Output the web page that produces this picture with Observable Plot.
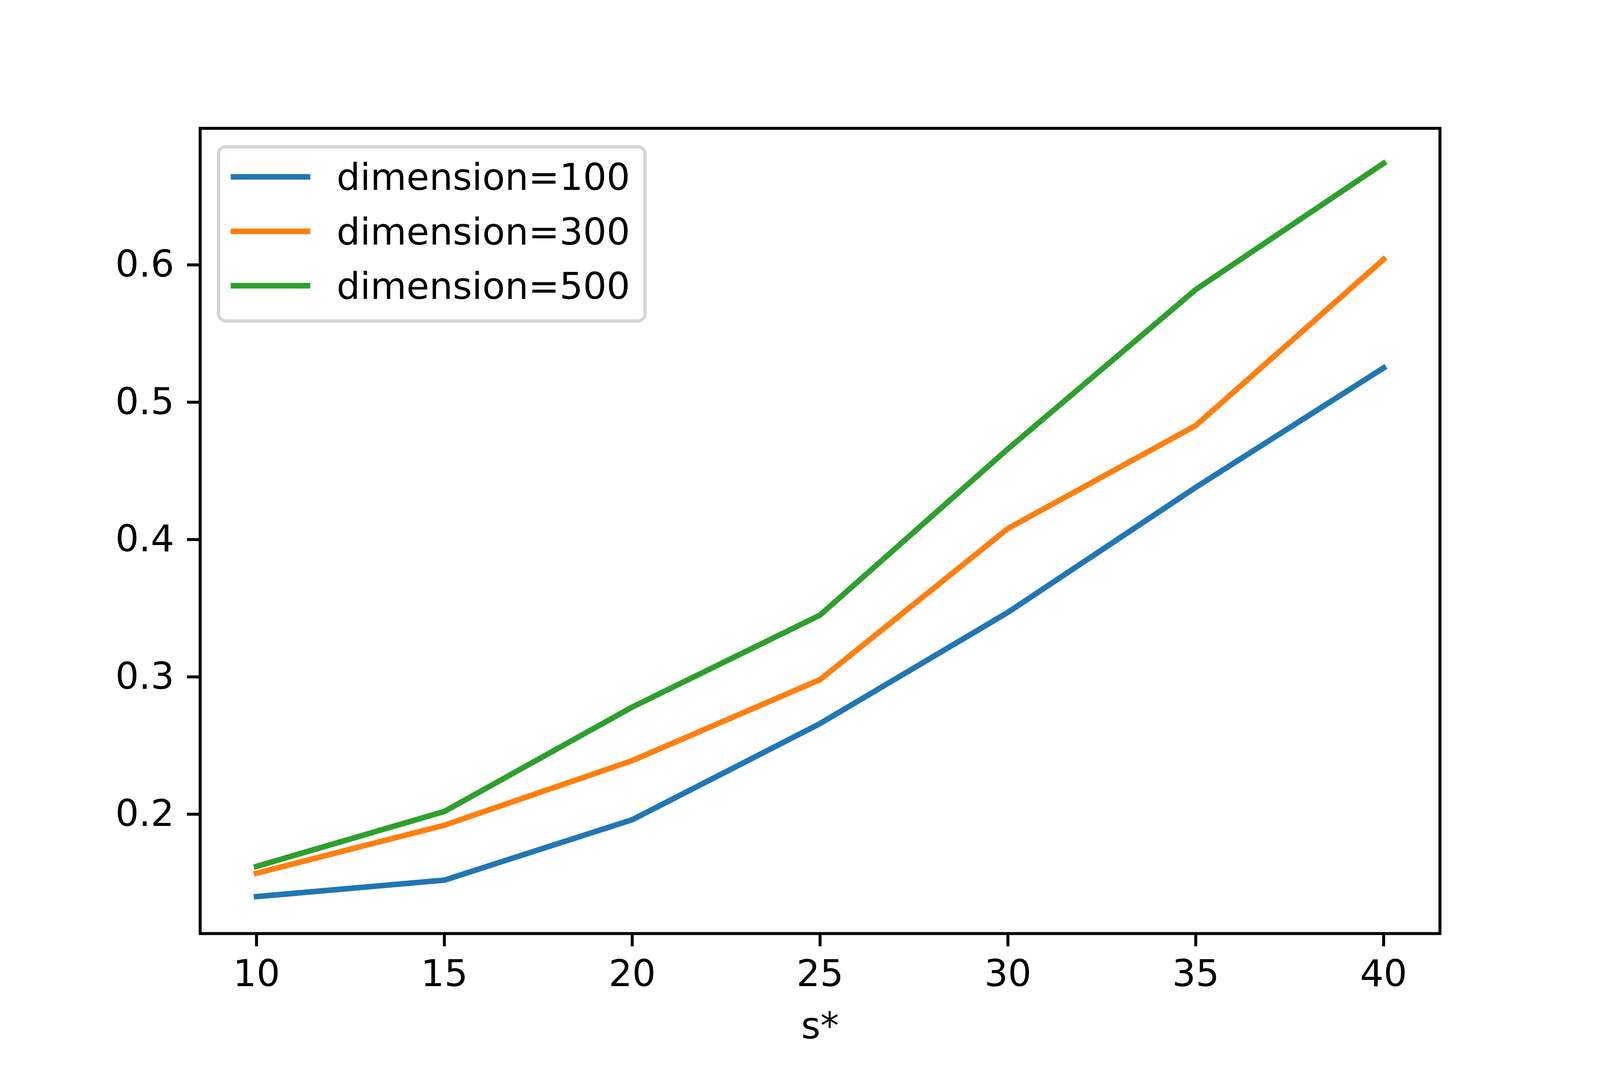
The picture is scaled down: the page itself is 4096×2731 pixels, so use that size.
<!DOCTYPE html>
<html>
<head>
<meta charset="utf-8">
<script src="https://cdn.jsdelivr.net/npm/d3@7"></script>
<script src="https://cdn.jsdelivr.net/npm/@observablehq/plot@0.6"></script>
<style>
  html, body { margin: 0; padding: 0; background: #ffffff; }
  #wrap { position: relative; width: 4096px; height: 2731px; overflow: hidden; }
  #legend { position: absolute; left: 0; top: 0; pointer-events: none; }
</style>
</head>
<body>
<div id="wrap"></div>
<script>
// ---- data ----
const sValues = [10, 15, 20, 25, 30, 35, 40];
const seriesNames = ["dimension=100", "dimension=300", "dimension=500"];
const dim100 = [0.140, 0.152, 0.196, 0.266, 0.347, 0.438, 0.525];
const dim300 = [0.157, 0.192, 0.239, 0.298, 0.408, 0.483, 0.604];
const dim500 = [0.162, 0.202, 0.278, 0.345, 0.466, 0.582, 0.674];
const seriesColors = ["#1f77b4", "#ff7f0e", "#2ca02c"];
const xTicks = [10, 15, 20, 25, 30, 35, 40];
const yTicks = [0.2, 0.3, 0.4, 0.5, 0.6];
const xLabel = "s*";

// ---- layout (scaled 0.948 from the 4320x2880 reference) ----
const S = 0.948;
const W = 4096, H = 2731;
const font = "DejaVu Sans";
const fs = 100 * S;

const seriesValues = [dim100, dim300, dim500];
const rows = [];
seriesNames.forEach((name, k) => {
  sValues.forEach((s, i) => rows.push({series: name, s, v: seriesValues[k][i]}));
});

const chart = Plot.plot({
  width: W,
  height: H,
  marginLeft: 540 * S,
  marginRight: W - 3888 * S,
  marginTop: 346 * S,
  marginBottom: H - 2520 * S,
  style: {fontFamily: font, fontSize: fs + "px", color: "#000", background: "#fff", overflow: "visible"},
  x: {domain: [8.5, 41.5]},
  y: {domain: [0.1131, 0.6994]},
  color: {domain: seriesNames, range: seriesColors},
  marks: [
    Plot.line(rows, {
      x: "s", y: "v", z: "series", stroke: "series",
      strokeWidth: 15 * S, strokeLinejoin: "round", strokeLinecap: "square"
    }),
    Plot.frame({stroke: "#000", strokeWidth: 8 * S}),
    Plot.axisX({
      ticks: xTicks, tickSize: 35 * S, tickPadding: 36 * S, strokeWidth: 8 * S,
      fontSize: fs, tickFormat: d3.format("d"),
      label: xLabel, labelAnchor: "center", labelOffset: (2803 - 2520) * S, labelArrow: "none"
    }),
    Plot.axisY({
      ticks: yTicks, tickSize: 35 * S, tickPadding: 35 * S, strokeWidth: 8 * S,
      fontSize: fs, tickFormat: d3.format(".1f"), label: null
    })
  ]
});

const wrap = document.getElementById("wrap");
wrap.appendChild(chart);

// ---- legend (matplotlib-style box, upper left) ----
const lg = d3.select(wrap).append("svg")
  .attr("id", "legend")
  .attr("width", W).attr("height", H);

const boxL = 590 * S, boxT = 396 * S, boxR = 1742 * S, boxB = 866.7 * S;
lg.append("rect")
  .attr("x", boxL).attr("y", boxT)
  .attr("width", boxR - boxL).attr("height", boxB - boxT)
  .attr("rx", 20 * S).attr("ry", 20 * S)
  .attr("fill", "#fff").attr("fill-opacity", 0.8)
  .attr("stroke", "#d6d6d6").attr("stroke-width", 9 * S);

const rowStep = 147 * S;
seriesNames.forEach((name, i) => {
  const cy = 477.5 * S + i * rowStep;
  lg.append("line")
    .attr("x1", 623 * S).attr("x2", 838 * S)
    .attr("y1", cy).attr("y2", cy)
    .attr("stroke", seriesColors[i]).attr("stroke-width", 15 * S);
  lg.append("text")
    .attr("x", 909 * S).attr("y", 513 * S + i * rowStep)
    .attr("font-family", font).attr("font-size", fs)
    .attr("fill", "#000")
    .text(name);
});
</script>
</body>
</html>
